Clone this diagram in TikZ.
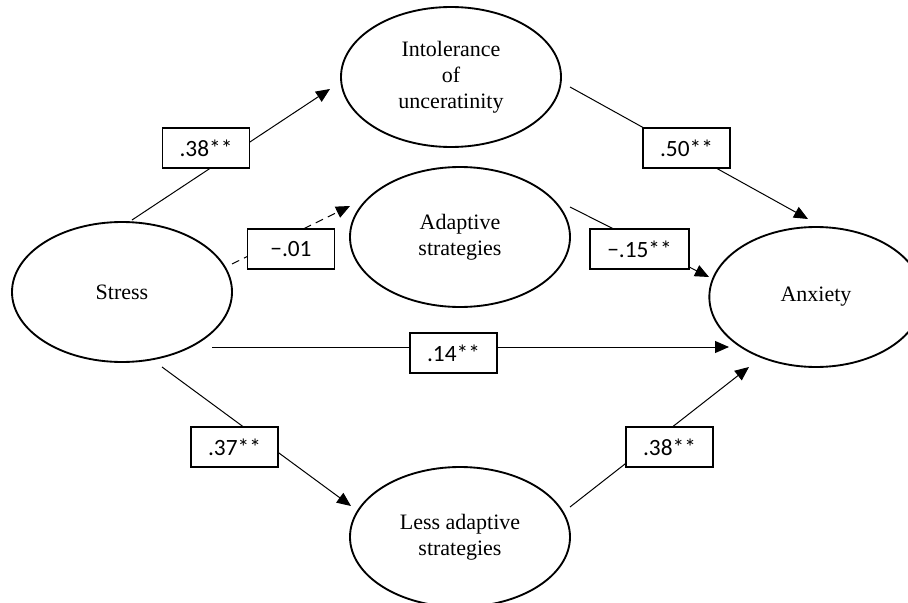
\documentclass[tikz,border=0pt]{standalone}
\usepackage{fontspec}
\setmainfont{Liberation Serif}
\newfontfamily\lblfont{Carlito}
\usetikzlibrary{shapes.geometric,arrows.meta}
\begin{document}
\begin{tikzpicture}[x=0.75pt,y=-0.75pt,
  latent/.style={ellipse,draw,line width=1.4pt,minimum width=165pt,minimum height=105pt,inner sep=0pt,outer sep=0pt,align=center,font=\fontsize{16.5}{19.5}\selectfont},
  coef/.style={rectangle,draw,fill=white,line width=1.2pt,minimum width=65pt,minimum height=30pt,inner sep=0pt,font=\lblfont\fontsize{17.5}{20}\selectfont},
  path/.style={line width=0.75pt,-{Triangle[length=10.5pt,width=9pt]}},
  nspath/.style={path,dashed,dash pattern=on 6pt off 4pt}]
\useasboundingbox (0,0) rectangle (908,603);
\node[latent] (stress) at (122,292) {Stress};
\node[latent] (iou) at (451,77) {Intolerance\\of\\unceratinity};
\node[latent] (adapt) at (460,237) {Adaptive\\strategies};
\node[latent] (less) at (460,537) {Less adaptive\\strategies};
\node[latent,minimum width=160pt] (anx) at (816,297) {Anxiety};
% connectors
\draw[path] ([shift={(10,-72)}]stress.center) -- ([shift={(-121,12)}]iou.center);
\draw[nspath] ([shift={(110,-28)}]stress.center) -- ([shift={(-110,-31)}]adapt.center);
\draw[path] ([shift={(119,10)}]iou.center) -- ([shift={(-8,-78)}]anx.center);
\draw[path] ([shift={(110,-30)}]adapt.center) -- ([shift={(-107,-20)}]anx.center);
\draw[path] ([shift={(90,55)}]stress.center) -- ([shift={(-87,50)}]anx.center);
\draw[path] ([shift={(40,75)}]stress.center) -- ([shift={(-109,-31)}]less.center);
\draw[path] ([shift={(110,-30)}]less.center) -- ([shift={(-67,70)}]anx.center);
% coefficients
\node[coef] (c1) at (206,148) {.38**};
\node[coef] (c2) at (291,249) {−.01};
\node[coef] (c3) at (686.5,148) {.50**};
\node[coef,minimum width=74pt] (c4) at (639.5,249) {−.15**};
\node[coef] (c5) at (453.5,353) {.14**};
\node[coef] (c6) at (234.5,447) {.37**};
\node[coef] (c7) at (669.5,447) {.38**};
\end{tikzpicture}
\end{document}
